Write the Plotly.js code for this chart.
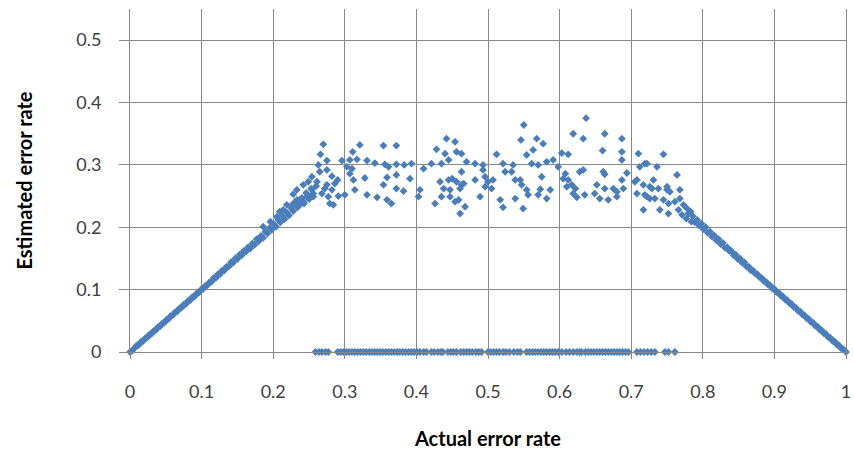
<!DOCTYPE html>
<html>
<head>
<meta charset="utf-8">
<script src="https://cdn.plot.ly/plotly-3.0.1.min.js"></script>
<style>
  html, body { margin: 0; padding: 0; background: #ffffff; }
  #chart { width: 854px; height: 456px; }
</style>
</head>
<body>
<div id="chart"></div>
<script>
// Rising arm: estimate tracks the actual rate for low error rates
const risingArm = [
  [0,0],[0.003,0.002],[0.006,0.006],[0.009,0.010],[0.012,0.011],[0.015,0.016],[0.018,0.017],
  [0.021,0.022],[0.024,0.023],[0.027,0.028],[0.030,0.029],[0.033,0.034],[0.036,0.035],
  [0.039,0.040],[0.042,0.041],[0.045,0.046],[0.048,0.047],[0.051,0.052],[0.054,0.053],
  [0.057,0.058],[0.060,0.059],[0.063,0.064],[0.066,0.065],[0.069,0.070],[0.072,0.071],
  [0.075,0.076],[0.078,0.077],[0.081,0.082],[0.084,0.083],[0.087,0.088],[0.090,0.089],
  [0.093,0.094],[0.096,0.095],[0.099,0.100],[0.102,0.101],[0.105,0.106],[0.108,0.107],
  [0.111,0.112],[0.114,0.113],[0.117,0.119],[0.120,0.119],[0.123,0.125],[0.126,0.125],
  [0.129,0.131],[0.132,0.131],[0.135,0.137],[0.138,0.137],[0.141,0.144],[0.144,0.143],
  [0.147,0.150],[0.150,0.149],[0.153,0.156],[0.156,0.155],[0.159,0.162],[0.162,0.161],
  [0.165,0.168],[0.168,0.166],[0.171,0.174],[0.174,0.172],[0.177,0.181],[0.180,0.178],
  [0.183,0.186],[0.186,0.183],[0.189,0.193],[0.192,0.190],[0.195,0.199],[0.198,0.196],
  [0.201,0.205],[0.204,0.201],[0.207,0.212],[0.210,0.208],[0.213,0.218],[0.216,0.213],
  [0.219,0.224],[0.222,0.219],[0.225,0.231],[0.228,0.226],[0.231,0.238],[0.234,0.232],
  [0.237,0.236],[0.240,0.247],[0.243,0.238],[0.246,0.255],[0.250,0.245],[0.253,0.262],
  [0.256,0.249],[0.260,0.266],[0.186,0.201],[0.196,0.209],[0.205,0.217],[0.214,0.228],
  [0.209,0.225],[0.219,0.236],[0.228,0.253],[0.233,0.244],[0.242,0.241]
];

// Plateau: scattered estimates between roughly 0.22 and 0.37
const plateau = [
  [0.270,0.333],[0.266,0.317],[0.275,0.307],[0.321,0.332],[0.354,0.331],[0.372,0.331],
  [0.311,0.321],[0.442,0.342],[0.454,0.337],[0.428,0.325],[0.440,0.318],[0.456,0.321],
  [0.463,0.318],[0.445,0.308],[0.296,0.307],[0.307,0.308],[0.317,0.309],[0.331,0.307],
  [0.342,0.303],[0.356,0.301],[0.361,0.297],[0.372,0.301],[0.383,0.300],[0.393,0.302],
  [0.410,0.294],[0.421,0.302],[0.435,0.302],[0.263,0.300],[0.265,0.289],[0.275,0.292],
  [0.303,0.297],[0.310,0.294],[0.307,0.286],[0.282,0.282],[0.290,0.276],[0.286,0.270],
  [0.254,0.281],[0.249,0.273],[0.242,0.268],[0.233,0.260],[0.312,0.276],[0.328,0.279],
  [0.359,0.280],[0.372,0.284],[0.391,0.278],[0.354,0.268],[0.372,0.262],[0.382,0.258],
  [0.405,0.260],[0.403,0.249],[0.433,0.273],[0.445,0.276],[0.456,0.273],[0.466,0.270],
  [0.438,0.262],[0.447,0.260],[0.461,0.262],[0.435,0.249],[0.447,0.249],[0.459,0.244],
  [0.426,0.238],[0.461,0.222],[0.272,0.262],[0.268,0.254],[0.277,0.249],[0.279,0.238],
  [0.291,0.250],[0.300,0.252],[0.314,0.260],[0.331,0.252],[0.345,0.248],[0.359,0.244],
  [0.365,0.238],[0.256,0.254],[0.247,0.249],[0.237,0.244],[0.228,0.238],
  [0.637,0.375],[0.550,0.364],[0.619,0.350],[0.633,0.342],[0.663,0.350],[0.687,0.342],
  [0.546,0.340],[0.568,0.342],[0.577,0.334],[0.563,0.324],[0.554,0.316],[0.660,0.323],
  [0.687,0.321],[0.687,0.308],[0.603,0.319],[0.612,0.317],[0.710,0.318],[0.745,0.317],
  [0.512,0.317],[0.521,0.302],[0.535,0.300],[0.561,0.302],[0.570,0.300],[0.582,0.305],
  [0.591,0.308],[0.598,0.297],[0.470,0.305],[0.482,0.302],[0.493,0.300],[0.493,0.292],
  [0.628,0.289],[0.633,0.292],[0.661,0.289],[0.663,0.285],[0.694,0.287],[0.687,0.276],
  [0.712,0.297],[0.722,0.302],[0.736,0.297],[0.463,0.289],[0.450,0.278],[0.463,0.268],
  [0.482,0.276],[0.496,0.281],[0.500,0.273],[0.496,0.265],[0.507,0.276],[0.505,0.262],
  [0.524,0.289],[0.533,0.289],[0.538,0.276],[0.545,0.276],[0.547,0.268],[0.575,0.281],
  [0.608,0.286],[0.612,0.276],[0.617,0.268],[0.622,0.262],[0.619,0.254],[0.624,0.248],
  [0.605,0.278],[0.610,0.265],[0.652,0.268],[0.663,0.262],[0.675,0.262],[0.680,0.257],
  [0.689,0.262],[0.649,0.254],[0.656,0.246],[0.668,0.244],[0.680,0.249],[0.635,0.252],
  [0.708,0.276],[0.717,0.268],[0.726,0.265],[0.738,0.262],[0.750,0.260],[0.708,0.254],
  [0.722,0.249],[0.733,0.246],[0.745,0.244],[0.752,0.238],[0.717,0.228],[0.740,0.228],
  [0.517,0.244],[0.521,0.232],[0.538,0.246],[0.549,0.230],[0.556,0.252],[0.570,0.252],
  [0.582,0.246],[0.587,0.260],[0.454,0.241],[0.468,0.233],[0.489,0.249],[0.554,0.260],
  [0.573,0.261],[0.764,0.284],[0.705,0.273],[0.731,0.276],[0.729,0.262],[0.750,0.265],
  [0.754,0.257],[0.768,0.260],[0.719,0.252],[0.726,0.246],[0.761,0.241],[0.768,0.246],
  [0.773,0.236],[0.778,0.230],[0.752,0.222],[0.766,0.228],[0.771,0.220],[0.719,0.302],
  [0.275,0.268],[0.282,0.260],[0.284,0.236],[0.251,0.249],[0.261,0.273],[0.254,0.260]
];

// Falling arm: estimate mirrors the actual rate for high error rates
const fallingArm = [
  [0.777,0.214],[0.780,0.222],[0.783,0.225],[0.784,0.209],[0.786,0.218],[0.789,0.208],
  [0.792,0.212],[0.795,0.203],[0.798,0.206],[0.801,0.197],[0.804,0.200],[0.807,0.191],
  [0.810,0.193],[0.813,0.185],[0.816,0.187],[0.819,0.179],[0.822,0.181],[0.825,0.173],
  [0.828,0.175],[0.831,0.167],[0.834,0.168],[0.837,0.162],[0.840,0.162],[0.843,0.155],
  [0.846,0.156],[0.849,0.149],[0.852,0.150],[0.855,0.143],[0.858,0.144],[0.861,0.137],
  [0.864,0.137],[0.867,0.131],[0.870,0.131],[0.873,0.126],[0.876,0.125],[0.879,0.120],
  [0.882,0.119],[0.885,0.114],[0.888,0.113],[0.891,0.108],[0.894,0.107],[0.897,0.102],
  [0.900,0.101],[0.903,0.096],[0.906,0.095],[0.909,0.090],[0.912,0.089],[0.915,0.084],
  [0.918,0.083],[0.921,0.078],[0.924,0.077],[0.927,0.072],[0.930,0.071],[0.933,0.066],
  [0.936,0.065],[0.939,0.060],[0.942,0.059],[0.945,0.054],[0.948,0.053],[0.951,0.048],
  [0.954,0.047],[0.957,0.042],[0.960,0.041],[0.963,0.036],[0.966,0.035],[0.969,0.030],
  [0.972,0.029],[0.975,0.024],[0.978,0.023],[0.981,0.018],[0.984,0.017],[0.987,0.012],
  [0.990,0.011],[0.993,0.006],[0.996,0.005],[1.000,0.000]
];

// Cases where the estimator returned zero
const zeroRow = [
  [0.259,0],[0.264,0],[0.268,0],[0.273,0],[0.277,0],
  [0.290,0],[0.294,0],[0.298,0],[0.302,0],[0.306,0],[0.310,0],[0.314,0],[0.318,0],
  [0.322,0],[0.326,0],[0.330,0],[0.334,0],[0.338,0],[0.342,0],[0.345,0],
  [0.349,0],[0.353,0],[0.357,0],[0.361,0],[0.365,0],[0.369,0],[0.373,0],[0.377,0],
  [0.381,0],[0.385,0],[0.389,0],[0.393,0],[0.397,0],[0.401,0],
  [0.405,0],[0.410,0],[0.414,0],[0.421,0],[0.425,0],[0.430,0],[0.434,0],[0.437,0],
  [0.444,0],[0.448,0],[0.452,0],[0.456,0],[0.462,0],[0.466,0],[0.470,0],[0.474,0],
  [0.478,0],[0.483,0],[0.487,0],[0.491,0],
  [0.500,0],[0.504,0],[0.508,0],[0.512,0],[0.516,0],[0.521,0],[0.525,0],[0.530,0],
  [0.536,0],[0.541,0],[0.545,0],
  [0.554,0],[0.558,0],[0.562,0],[0.566,0],[0.570,0],[0.574,0],[0.578,0],[0.582,0],
  [0.586,0],[0.590,0],[0.594,0],
  [0.598,0],[0.603,0],[0.609,0],[0.614,0],[0.619,0],[0.624,0],[0.628,0],
  [0.631,0],[0.636,0],[0.640,0],[0.644,0],[0.648,0],[0.652,0],[0.656,0],[0.660,0],
  [0.664,0],[0.668,0],[0.672,0],[0.676,0],[0.680,0],[0.684,0],[0.688,0],[0.692,0],[0.696,0],
  [0.708,0],[0.713,0],[0.718,0],[0.723,0],[0.728,0],[0.733,0],
  [0.747,0],[0.752,0],[0.761,0]
];

const xTickVals = [0, 0.1, 0.2, 0.3, 0.4, 0.5, 0.6, 0.7, 0.8, 0.9, 1];
const xTickText = ['0', '0.1', '0.2', '0.3', '0.4', '0.5', '0.6', '0.7', '0.8', '0.9', '1'];
const yTickVals = [0, 0.1, 0.2, 0.3, 0.4, 0.5];
const yTickText = ['0', '0.1', '0.2', '0.3', '0.4', '0.5'];

const allPoints = risingArm.concat(plateau, fallingArm, zeroRow);

const gridColor = '#888888';
const tickFont = { family: 'Lato, "Liberation Sans", sans-serif', size: 18, color: '#404040' };
const titleFont = { family: 'Lato, "Liberation Sans", sans-serif', size: 20, color: '#000000', weight: 'bold' };

const trace = {
  type: 'scatter',
  mode: 'markers',
  x: allPoints.map(p => p[0]),
  y: allPoints.map(p => p[1]),
  marker: { symbol: 'diamond', size: 6, color: '#4a7ebb', line: { width: 0 } },
  hoverinfo: 'x+y',
  cliponaxis: false
};

const layout = {
  width: 854,
  height: 456,
  margin: { l: 130, r: 8, t: 9, b: 104 },
  paper_bgcolor: '#ffffff',
  plot_bgcolor: '#ffffff',
  showlegend: false,
  xaxis: {
    range: [0, 1],
    tickmode: 'array',
    tickvals: xTickVals,
    ticktext: xTickText,
    showgrid: true,
    gridcolor: gridColor,
    gridwidth: 1,
    zeroline: false,
    showline: true,
    linecolor: gridColor,
    linewidth: 1,
    ticks: 'outside',
    ticklen: 6,
    tickcolor: gridColor,
    tickfont: tickFont,
    ticklabelstandoff: 17,
    title: { text: 'Actual error rate', font: titleFont, standoff: 31 }
  },
  yaxis: {
    range: [0, 0.55],
    tickmode: 'array',
    tickvals: yTickVals,
    ticktext: yTickText,
    showgrid: true,
    gridcolor: gridColor,
    gridwidth: 1,
    zeroline: false,
    showline: true,
    mirror: true,
    linecolor: gridColor,
    linewidth: 1,
    ticks: 'outside',
    ticklen: 10,
    tickcolor: gridColor,
    tickfont: tickFont,
    ticklabelstandoff: 14,
    title: { text: 'Estimated error rate', font: titleFont, standoff: 38 }
  }
};

Plotly.newPlot('chart', [trace], layout, { staticPlot: true, displayModeBar: false });
</script>
</body>
</html>
